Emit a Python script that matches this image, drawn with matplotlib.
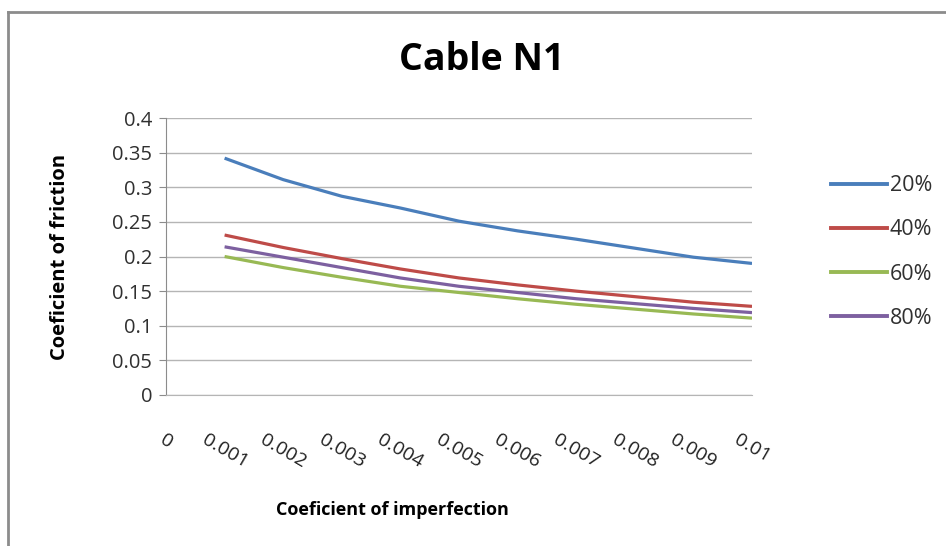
import matplotlib.pyplot as plt
import matplotlib.lines as mlines
import numpy as np

plt.rcParams["font.family"] = ["Open Sans", "DejaVu Sans"]

# categories on the x axis (Excel category axis)
categories = ["0", "0.001", "0.002", "0.003", "0.004", "0.005",
              "0.006", "0.007", "0.008", "0.009", "0.01"]
# series start at the second category (0.001)
s20 = [0.342, 0.311, 0.287, 0.270, 0.251, 0.237, 0.225, 0.212, 0.199, 0.190]
s40 = [0.231, 0.213, 0.197, 0.182, 0.169, 0.159, 0.150, 0.142, 0.134, 0.128]
s60 = [0.200, 0.184, 0.170, 0.157, 0.148, 0.139, 0.131, 0.124, 0.117, 0.111]
s80 = [0.214, 0.199, 0.184, 0.169, 0.157, 0.148, 0.139, 0.132, 0.125, 0.119]
series_names = ["20%", "40%", "60%", "80%"]

COLORS = ["#4A7EBB", "#BE4B48", "#98B954", "#7D60A0"]

fig = plt.figure(figsize=(9.46, 5.46), dpi=100)
ax = fig.add_axes([166 / 946, 1 - 395 / 546, (752 - 166) / 946, (395 - 118) / 546])

xpos = np.arange(len(categories))
for vals, name, col in zip([s20, s40, s60, s80], series_names, COLORS):
    ax.plot(xpos[1:], vals, color=col, linewidth=2.3, label=name,
            solid_capstyle="butt")

ax.set_xlim(0, len(categories) - 1)
ax.set_ylim(0, 0.4)
ax.set_yticks(np.arange(0, 0.401, 0.05))
ax.set_yticklabels(["0", "0.05", "0.1", "0.15", "0.2", "0.25", "0.3", "0.35", "0.4"])
ax.grid(axis="y", color="#B5B5B5", linewidth=1.0)
ax.set_axisbelow(True)
for side in ["top", "right"]:
    ax.spines[side].set_visible(False)
ax.spines["left"].set_color("#8C8C8C")
ax.spines["bottom"].set_color("#B5B5B5")
ax.tick_params(axis="y", length=5, color="#8C8C8C", labelsize=14.5,
               labelcolor="#303030", pad=5)
ax.set_xticks(xpos)
ax.set_xticklabels(categories, rotation=-30, ha="center", va="top",
                   fontsize=14, color="#202020")
ax.tick_params(axis="x", length=0, pad=26)

fig.text(60 / 946, 1 - 257 / 546, "Coeficient of friction", rotation=90,
         ha="center", va="center", fontsize=14.5, fontweight="bold")
fig.text(392 / 946, 1 - 510 / 546, "Coeficient of imperfection",
         ha="center", va="center", fontsize=13, fontweight="bold")
fig.text(482 / 946, 1 - 60 / 546, "Cable N1", ha="center", va="center",
         fontsize=27, fontweight="bold")

handles = [mlines.Line2D([], [], color=c, linewidth=2.8) for c in COLORS]
fig.legend(handles, series_names, loc="center left",
           bbox_to_anchor=(812 / 946, 1 - 252 / 546), frameon=False,
           fontsize=15.5, handlelength=2.6, handletextpad=0.12,
           labelspacing=1.08, labelcolor="#303030")

# outer chart-area border (left and top visible)
fig.add_artist(mlines.Line2D([8 / 946, 8 / 946], [0, 1 - 12 / 546],
                             transform=fig.transFigure, color="#8C8C8C", linewidth=2))
fig.add_artist(mlines.Line2D([8 / 946, 1], [1 - 12 / 546, 1 - 12 / 546],
                             transform=fig.transFigure, color="#8C8C8C", linewidth=2))

fig.savefig("out.png", dpi=100)
